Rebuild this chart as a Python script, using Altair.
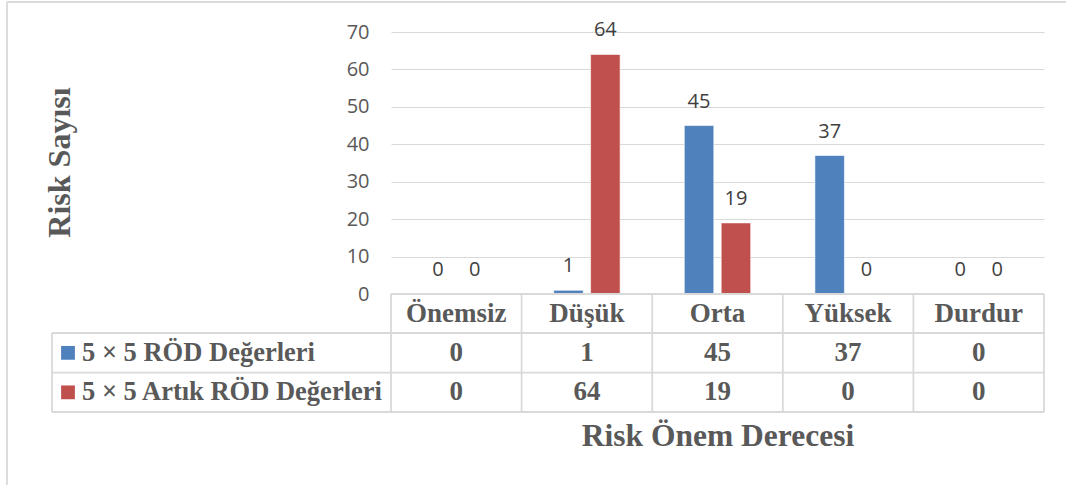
import altair as alt
import pandas as pd

categories = ["Önemsiz", "Düşük", "Orta", "Yüksek", "Durdur"]
series_names = ["5 × 5 RÖD Değerleri", "5 × 5 Artık RÖD Değerleri"]
rod_values = [0, 1, 45, 37, 0]
artik_values = [0, 64, 19, 0, 0]
y_ticks = [0, 10, 20, 30, 40, 50, 60, 70]
colors = ["#4f81bd", "#c0504d"]
x_title = "Risk Önem Derecesi"
y_title = "Risk Sayısı"

rows = []
for s, vals in zip(series_names, [rod_values, artik_values]):
    for c, v in zip(categories, vals):
        rows.append({"cat": c, "series": s, "value": v})
df = pd.DataFrame(rows)
cat_df = pd.DataFrame({"cat": categories})
one = pd.DataFrame({"d": [0]})

W, H = 653, 262
GRAY = "#595959"
LINE = "#d9d9d9"
SERIF = "Liberation Serif"
SANS = "Open Sans"

xenc = alt.X("cat:N", scale=alt.Scale(domain=categories, paddingInner=0, paddingOuter=0), axis=None)
xoff = alt.XOffset("series:N", scale=alt.Scale(domain=series_names, paddingInner=0.2, paddingOuter=0.87))
yaxis = alt.Axis(values=y_ticks, tickCount=8, grid=True, gridColor=LINE, gridWidth=1.2, domain=False,
                 ticks=False, labelFontSize=20, labelFont=SANS, labelColor=GRAY,
                 labelPadding=22, labelOverlap=False, title=None)
yenc = alt.Y("value:Q", scale=alt.Scale(domain=[0, 70], nice=False), axis=yaxis)
cenc = alt.Color("series:N", scale=alt.Scale(domain=series_names, range=colors), legend=None)

bars = alt.Chart(df).mark_bar(stroke="white", strokeWidth=0.6).encode(x=xenc, xOffset=xoff, y=yenc, color=cenc)
labels = alt.Chart(df).mark_text(font=SANS, fontSize=20, color="#404040", baseline="middle", dy=-24).encode(
    x=xenc, xOffset=xoff, y=yenc, text="value:Q")

layers = [bars, labels]

# table grid
def hrule(y, x0, x1):
    return alt.Chart(one).mark_rule(color=LINE, strokeWidth=1.8).encode(
        x=alt.value(x0), x2=alt.value(x1), y=alt.value(y))

def vrule(x, y0, y1):
    return alt.Chart(one).mark_rule(color=LINE, strokeWidth=1.8).encode(
        x=alt.value(x), y=alt.value(y0), y2=alt.value(y1))

TOP, R1, R2, BOT = 262, 301, 340.7, 380
LEFT = -339
layers += [hrule(TOP, 0, W), hrule(R1, LEFT, W), hrule(R2, LEFT, W), hrule(BOT, LEFT, W)]
layers.append(alt.Chart(cat_df).mark_rule(color=LINE, strokeWidth=1.8).encode(
    x=alt.X("cat:N", bandPosition=0, scale=alt.Scale(domain=categories, paddingInner=0, paddingOuter=0), axis=None),
    y=alt.value(TOP), y2=alt.value(BOT)))
layers += [vrule(W, TOP, BOT), vrule(LEFT, R1, BOT)]

# outer border
layers += [vrule(-384, -30, 460), hrule(-30, -384, 680)]

# header texts
layers.append(alt.Chart(cat_df).mark_text(font=SERIF, fontWeight="bold", fontSize=27, color=GRAY,
                                          baseline="middle").encode(
    x=xenc, y=alt.value((TOP + R1) / 2), text="cat:N"))

row_centers = [(R1 + R2) / 2, (R2 + BOT) / 2]
for s, yc in zip(series_names, row_centers):
    sub = df[df.series == s]
    layers.append(alt.Chart(sub).mark_text(font=SERIF, fontWeight="bold", fontSize=27, color=GRAY,
                                           baseline="middle").encode(
        x=xenc, y=alt.value(yc), text="value:Q"))
    lab = pd.DataFrame({"series": [s]})
    layers.append(alt.Chart(lab).mark_point(shape="square", filled=True, opacity=1, size=190).encode(
        x=alt.value(-323), y=alt.value(yc), color=cenc))
    layers.append(alt.Chart(lab).mark_text(font=SERIF, fontWeight="bold", fontSize=26.5, color=GRAY,
                                           align="left", baseline="middle").encode(
        x=alt.value(-309), y=alt.value(yc), text="series:N"))

# titles
layers.append(alt.Chart(pd.DataFrame({"t": [x_title]})).mark_text(
    font=SERIF, fontWeight="bold", fontSize=31.5, color=GRAY, baseline="middle").encode(
    x=alt.value(718 - 391), y=alt.value(437 - 32), text="t:N"))
layers.append(alt.Chart(pd.DataFrame({"t": [y_title]})).mark_text(
    font=SERIF, fontWeight="bold", fontSize=32, color=GRAY, baseline="middle", angle=270).encode(
    x=alt.value(60 - 391), y=alt.value(162.5 - 32), text="t:N"))

chart = alt.layer(*layers).properties(
    width=W, height=H,
    autosize=alt.AutoSizeParams(type="none"),
    padding={"left": 391, "top": 32, "right": 22, "bottom": 191},
    background="white",
).configure_view(stroke=None)

chart.save("out.html", embed_options={"renderer": "svg", "actions": False})
